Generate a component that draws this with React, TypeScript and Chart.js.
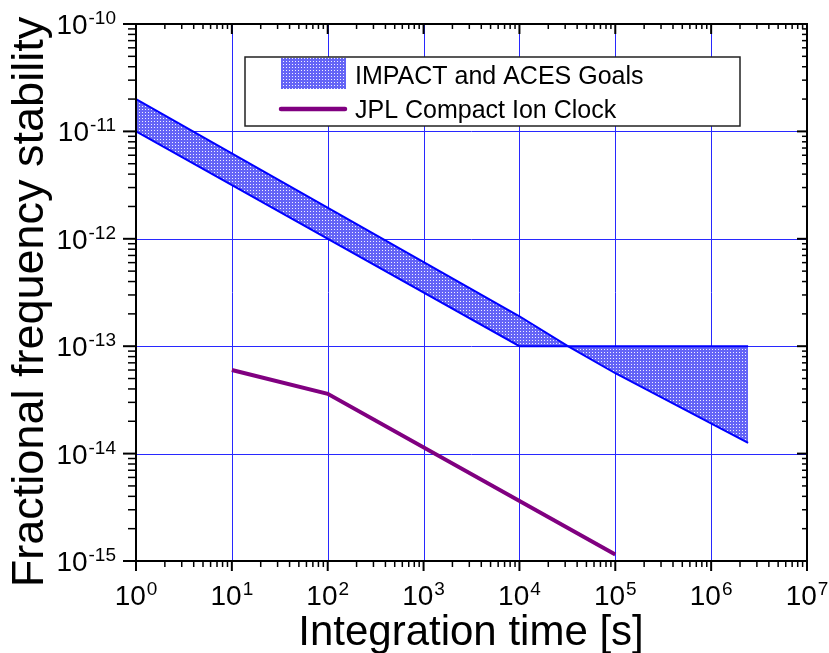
import React, { useEffect, useRef } from 'react';
import { Chart, registerables } from 'chart.js';

Chart.register(...registerables);

// ---- data ----
const goalTimes = [1, 1e4, 3.2e4, 1e5, 2.43e6];
const goalUpper = [2e-11, 1.9e-13, 1e-13, 5.6e-14, 1.26e-14];
const goalLower = [1e-11, 1e-13, 1e-13, 1e-13, 1e-13];
const jplTimes = [10, 100, 1e5];
const jplValues = [6e-14, 3.6e-14, 1.15e-15];
const xTickExps = [0, 1, 2, 3, 4, 5, 6, 7];
const yTickExps = [-15, -14, -13, -12, -11, -10];
const seriesLabels = ['IMPACT and ACES Goals', 'JPL Compact Ion Clock'];
const xTitle = 'Integration time [s]';
const yTitle = 'Fractional frequency stability';

const FONT = '"Liberation Sans", Arial, Helvetica, sans-serif';
const BLUE = '#0000ff';
const PURPLE = '#800080';

export default function App() {
  const ref = useRef<HTMLCanvasElement>(null);

  useEffect(() => {
    const canvas = ref.current!;
    const pc = document.createElement('canvas');
    pc.width = 3;
    pc.height = 3;
    const p = pc.getContext('2d')!;
    p.fillStyle = 'rgb(100,100,246)';
    p.fillRect(0, 0, 3, 3);
    p.fillStyle = 'rgb(240,240,255)';
    p.fillRect(1, 1, 1, 1);
    const pattern = canvas.getContext('2d')!.createPattern(pc, 'repeat')!;

    const bgPlugin = {
      id: 'bg',
      beforeDraw(chart: any) {
        const ctx = chart.ctx;
        ctx.save();
        ctx.fillStyle = '#ffffff';
        ctx.fillRect(0, 0, chart.width, chart.height);
        ctx.restore();
      },
    };

    const gridPlugin = {
      id: 'gridLines',
      beforeDatasetsDraw(chart: any) {
        const { ctx, chartArea: a, scales } = chart;
        ctx.save();
        ctx.strokeStyle = 'rgb(40,40,255)';
        ctx.lineWidth = 1;
        xTickExps.forEach((e) => {
          if (e === xTickExps[0] || e === xTickExps[xTickExps.length - 1]) return;
          const x = Math.round(scales.x.getPixelForValue(Math.pow(10, e))) + 0.5;
          ctx.beginPath();
          ctx.moveTo(x, a.top);
          ctx.lineTo(x, a.bottom);
          ctx.stroke();
        });
        yTickExps.forEach((e) => {
          if (e === yTickExps[0] || e === yTickExps[yTickExps.length - 1]) return;
          const y = Math.round(scales.y.getPixelForValue(Math.pow(10, e))) + 0.5;
          ctx.beginPath();
          ctx.moveTo(a.left, y);
          ctx.lineTo(a.right, y);
          ctx.stroke();
        });
        ctx.restore();
      },
    };

    const axesPlugin = {
      id: 'axesDeco',
      afterDraw(chart: any) {
        const { ctx, chartArea: a, scales } = chart;
        const xs = scales.x;
        const ys = scales.y;
        ctx.save();
        ctx.strokeStyle = '#000';
        ctx.lineWidth = 2;
        ctx.strokeRect(a.left, a.top, a.right - a.left, a.bottom - a.top);

        const line = (x1: number, y1: number, x2: number, y2: number) => {
          ctx.beginPath();
          ctx.moveTo(x1, y1);
          ctx.lineTo(x2, y2);
          ctx.stroke();
        };

        // x ticks
        for (let i = 0; i < xTickExps.length; i++) {
          const e = xTickExps[i];
          const x = xs.getPixelForValue(Math.pow(10, e));
          ctx.lineWidth = 2;
          line(x, a.bottom, x, a.bottom + 10);
          line(x, a.top, x, a.top + 10);
          if (i < xTickExps.length - 1) {
            ctx.lineWidth = 1.5;
            for (let m = 2; m <= 9; m++) {
              const xm = xs.getPixelForValue(m * Math.pow(10, e));
              line(xm, a.bottom, xm, a.bottom + 6);
              line(xm, a.top, xm, a.top + 5);
            }
          }
        }
        // y ticks
        for (let i = 0; i < yTickExps.length; i++) {
          const e = yTickExps[i];
          const y = ys.getPixelForValue(Math.pow(10, e));
          ctx.lineWidth = 2;
          line(a.left - 13, y, a.left, y);
          line(a.right - 10, y, a.right, y);
          if (i < yTickExps.length - 1) {
            ctx.lineWidth = 1.5;
            for (let m = 2; m <= 9; m++) {
              const ym = ys.getPixelForValue(m * Math.pow(10, e));
              line(a.left - 8, ym, a.left, ym);
              line(a.right - 5, ym, a.right, ym);
            }
          }
        }

        // tick labels
        ctx.fillStyle = '#000';
        ctx.textBaseline = 'alphabetic';
        ctx.textAlign = 'left';
        const bigFont = `28px ${FONT}`;
        const supFont = `19px ${FONT}`;
        const measure = (exp: string) => {
          ctx.font = bigFont;
          const w1 = ctx.measureText('10').width;
          ctx.font = supFont;
          const w2 = ctx.measureText(exp).width;
          return { w1, w2, w: w1 + 1 + w2 };
        };
        const drawPow = (exp: string, sx: number, base: number) => {
          const m = measure(exp);
          ctx.font = bigFont;
          ctx.fillText('10', sx, base);
          ctx.font = supFont;
          ctx.fillText(exp, sx + m.w1 + 1, base - 10);
        };
        xTickExps.forEach((e) => {
          const x = xs.getPixelForValue(Math.pow(10, e));
          const s = String(e);
          const m = measure(s);
          drawPow(s, x - m.w / 2, a.bottom + 44);
        });
        yTickExps.forEach((e) => {
          const y = ys.getPixelForValue(Math.pow(10, e));
          const s = String(e);
          const m = measure(s);
          drawPow(s, a.left - 20 - m.w, y + 10);
        });

        // axis titles
        ctx.font = `42px ${FONT}`;
        ctx.textAlign = 'center';
        ctx.fillText(xTitle, 471, 645);
        ctx.save();
        ctx.translate(43, 302);
        ctx.rotate(-Math.PI / 2);
        ctx.font = `45px ${FONT}`;
        ctx.fillText(yTitle, 0, 0);
        ctx.restore();

        // legend
        ctx.fillStyle = '#fff';
        ctx.fillRect(245, 57, 495, 69);
        ctx.strokeStyle = '#222';
        ctx.lineWidth = 1.5;
        ctx.strokeRect(245, 57, 495, 69);
        ctx.fillStyle = pattern;
        ctx.fillRect(281, 58, 65, 31);
        ctx.strokeStyle = PURPLE;
        ctx.lineWidth = 4.5;
        ctx.lineCap = 'round';
        line(281, 109, 345, 109);
        ctx.fillStyle = '#000';
        ctx.textAlign = 'left';
        ctx.font = `25px ${FONT}`;
        ctx.fillText(seriesLabels[0], 355, 84);
        ctx.fillText(seriesLabels[1], 355, 118);
        ctx.restore();
      },
    };

    const chart = new Chart(canvas, {
      type: 'line',
      data: {
        datasets: [
          {
            label: seriesLabels[0] + ' upper',
            data: goalTimes.map((t, i) => ({ x: t, y: goalUpper[i] })),
            borderColor: BLUE,
            borderWidth: 2,
            pointRadius: 0,
            fill: false,
            tension: 0,
          },
          {
            label: seriesLabels[0],
            data: goalTimes.map((t, i) => ({ x: t, y: goalLower[i] })),
            borderColor: BLUE,
            borderWidth: 2,
            pointRadius: 0,
            backgroundColor: pattern as any,
            fill: '-1',
            tension: 0,
          },
          {
            label: seriesLabels[1],
            data: jplTimes.map((t, i) => ({ x: t, y: jplValues[i] })),
            borderColor: PURPLE,
            borderWidth: 4,
            pointRadius: 0,
            fill: false,
            tension: 0,
          },
        ],
      },
      options: {
        responsive: false,
        animation: false,
        devicePixelRatio: 1,
        layout: { padding: { left: 136, top: 24, right: 22, bottom: 92 } },
        scales: {
          x: { type: 'logarithmic', min: 1, max: 1e7, display: false },
          y: { type: 'logarithmic', min: 1e-15, max: 1e-10, display: false },
        },
        plugins: {
          legend: { display: false },
          tooltip: { enabled: false },
        },
      },
      plugins: [bgPlugin, gridPlugin, axesPlugin],
    } as any);

    return () => chart.destroy();
  }, []);

  return (
    <div style={{ position: 'absolute', left: 0, top: 0, width: 829, height: 653 }}>
      <canvas ref={ref} width={829} height={653} style={{ display: 'block', width: 829, height: 653 }} />
    </div>
  );
}
